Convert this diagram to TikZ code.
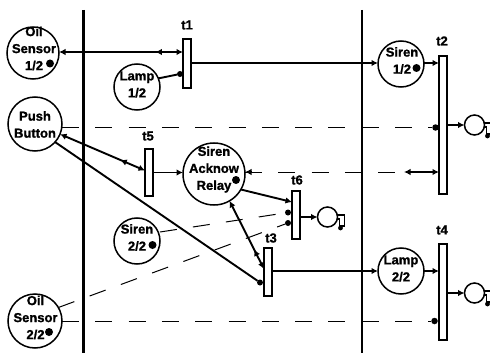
\documentclass[tikz,border=0pt]{standalone}
\usepackage{fontspec}
\setmainfont{Liberation Sans}[BoldFeatures={FakeBold=1.2}]
\usetikzlibrary{arrows.meta,decorations.markings,calc}
\tikzset{
  x=1pt,y=-1pt,
  every node/.style={inner sep=0pt,outer sep=0pt},
  placec/.style={draw,circle,line width=1.5pt,minimum size=#1pt},
  transb/.style={draw,rectangle,line width=1.3pt,minimum width=8pt,minimum height=#1pt,fill=white},
  tokend/.style={fill,circle,minimum size=#1pt},
  txt/.style={font=\fontsize{13}{17}\selectfont\bfseries,align=center},
  tname/.style={font=\fontsize{13}{14}\selectfont\bfseries},
  wall/.style={line width=2.2pt},
  arcline/.style={line width=1.5pt},
  diagline/.style={line width=1.9pt},
  dashline/.style={line width=1pt,dash pattern=on 17pt off 16.3pt},
  tipone/.style={-{Latex[length=6.5pt,width=6.5pt]}},
  tipboth/.style={{Latex[length=6.5pt,width=6.5pt]}-{Latex[length=6.5pt,width=6.5pt]}},
  midback/.style={postaction={decorate},decoration={markings,mark=at position #1 with {\arrow{Latex[length=6.5pt,width=6.5pt,reversed]}}}}
}
\newcommand{\bellshape}[2]{%
  \node[placec=20,fill=white] (#1) at (#2) {};
  \draw[line width=1.4pt] ($(#1)+(9,-2)$) -- ++(8,0) -- ++(0,11) -- ++(-5,0) -- ++(0,-7) -- ++(-3,0);
  \fill ($(#1)+(13,11)$) circle (2.4pt);
}
\begin{document}
\begin{tikzpicture}
\clip (0,0) rectangle (490,353);
\fill[white] (0,0) rectangle (490,353);
\coordinate (wa1) at (83.5,10); \coordinate (wa2) at (83.5,353);
\coordinate (wb1) at (362,10); \coordinate (wb2) at (362,353);
\draw[wall] (wa1) -- (wa2);
\draw[wall] (wb1) -- (wb2);

% places
\node[placec=52] (oil1) at (33,53) {};
\node[placec=46] (lamp1) at (137,87) {};
\node[placec=54] (push) at (35,124) {};
\node[placec=62] (relay) at (214,174) {};
\node[placec=46] (siren2) at (137,241) {};
\node[placec=54] (oil2) at (35,321) {};
\node[placec=46] (siren1) at (401,64) {};
\node[placec=46] (lamp2) at (401,271) {};

% transitions
\node[transb=49] (t1) at (187,63.5) {};
\node[transb=138] (t2) at (443,125) {};
\node[transb=47] (t5) at (149,172.5) {};
\node[transb=48] (t6) at (296,215) {};
\node[transb=48] (t3) at (268,272) {};
\node[transb=96] (t4) at (443,292) {};

% labels
\node[txt] (loil1) at (34,48.5) {Oil\\Sensor\\1/2};
\node[txt] (llamp1) at (137,84.5) {Lamp\\1/2};
\node[txt] (lpush) at (35,124.5) {Push\\Button};
\node[txt] (lrelay) at (214,169.5) {Siren\\Acknow\\Relay};
\node[txt] (lsiren2) at (137,237.5) {Siren\\2/2};
\node[txt] (loil2) at (35.5,317.5) {Oil\\Sensor\\2/2};
\node[txt] (lsiren1) at (402,60.5) {Siren\\1/2};
\node[txt] (llamp2) at (401,268.5) {Lamp\\2/2};

\node[tname] (nt1) at (187,25) {t1};
\node[tname] (nt2) at (442,41) {t2};
\node[tname] (nt5) at (148,136) {t5};
\node[tname] (nt6) at (297,180) {t6};
\node[tname] (nt3) at (271,238) {t3};
\node[tname] (nt4) at (442,230) {t4};

% tokens
\node[tokend=8] (k1) at (50,63.5) {};
\node[tokend=8] (k2) at (236,180) {};
\node[tokend=8] (k3) at (152.5,245) {};
\node[tokend=8] (k4) at (49,332) {};
\node[tokend=8] (k5) at (416.5,68) {};

% arc end dots
\node[tokend=6] (d1) at (180,74) {};
\node[tokend=6.5] (d2) at (435.5,127.5) {};
\node[tokend=6] (d3) at (288,212.5) {};
\node[tokend=6] (d4) at (288,223) {};
\node[tokend=6] (d5) at (260,282.5) {};
\node[tokend=6.5] (d6) at (434.5,321) {};

% output symbols
\bellshape{b2}{474.5,125}
\bellshape{b6}{327.5,217}
\bellshape{b4}{474.5,293}

% solid arcs
\draw[arcline,tipboth,midback=0.83] (oil1.east |- 0,52) -- (t1.west |- 0,52);
\draw[diagline] (lamp1.22) -- (d1);
\draw[arcline,tipone] (t1.east |- 0,63) -- (siren1.west |- 0,63);
\draw[arcline,tipone] (siren1.east |- 0,63) -- (t2.west |- 0,63);
\draw[arcline,tipone] (t2.east |- b2) -- (b2.west);
\draw[diagline,tipboth,midback=0.78] (push.-22) -- ($(t5.west)+(0,-2)$);
\draw[arcline,tipone] (t5.east) -- (relay.west |- t5.east);
\draw[diagline] (push.-42) -- (d5);
\draw[diagline,tipboth,midback=0.8] (relay.-60) -- ($(t3.west)+(0,-3)$);
\draw[diagline,tipone] (relay.-30) -- ($(t6.west)+(0,-13)$);
\draw[arcline,tipone] (t6.east |- b6) -- (b6.west);
\draw[arcline,tipone] (t3.east |- lamp2) -- (lamp2.west);
\draw[arcline,tipone] (lamp2.east) -- (t4.west |- lamp2.east);
\draw[arcline,tipone] (t4.east |- b4) -- (b4.west);

% dashed arcs
\draw[dashline] (push.east |- d2) -- (d2);
\draw[dashline] (oil2.east |- d6) -- (d6);
\draw[dashline] (siren2.east |- 0,232) -- (d3);
\draw[dashline] (oil2.30) -- (d4);
\draw[dashline] (relay.east |- 0,172) -- (t2.west |- 0,172);
\coordinate (pb) at (252,172);
\coordinate (pa) at (412,172);
\draw[arcline,tipone] (pb) -- (relay.east |- pb);
\draw[arcline,tipone] (pa) -- ++(-8,0);
\draw[arcline,tipone] (pa) -- (t2.west |- pa);
\end{tikzpicture}
\end{document}
